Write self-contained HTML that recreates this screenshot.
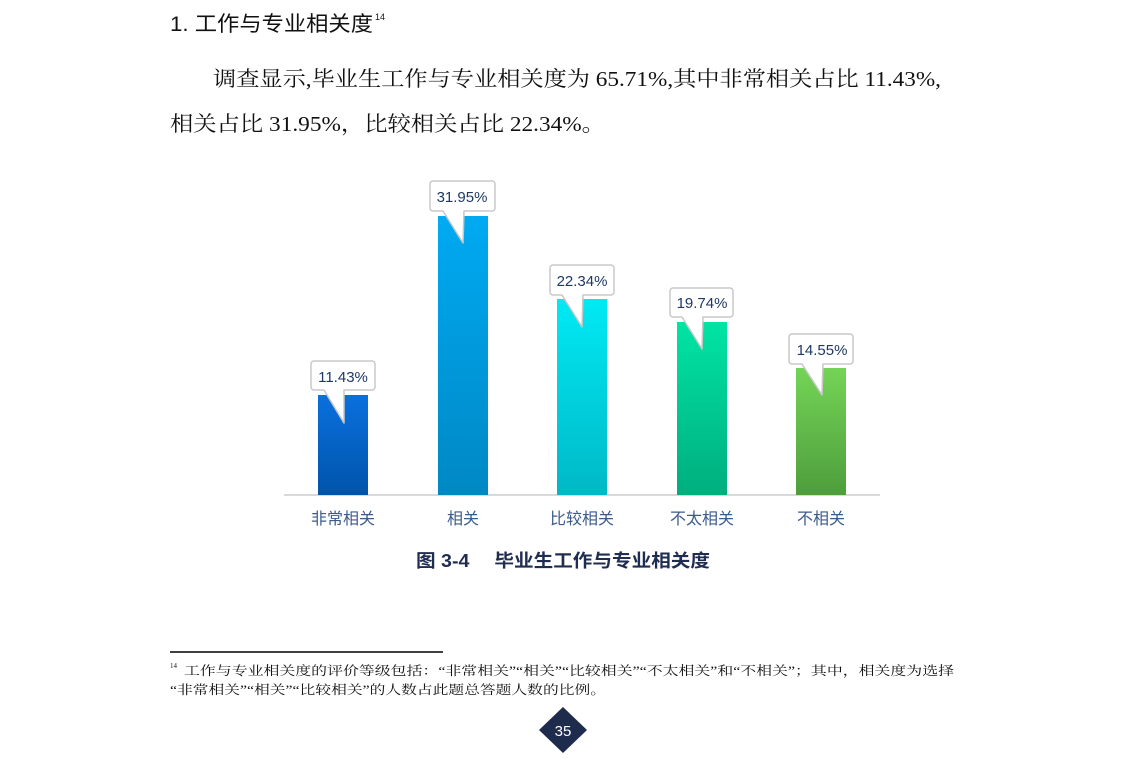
<!DOCTYPE html>
<html><head><meta charset="utf-8"><style>
body{margin:0;background:#fff;}
svg{display:block;}
.s{font-family:"Liberation Serif","Noto Serif CJK SC",serif;}
.a{font-family:"Liberation Sans","Noto Sans CJK SC",sans-serif;}
</style></head><body>
<svg width="1126" height="777" viewBox="0 0 1126 777">
<defs>
<linearGradient id="g1" x1="0" y1="0" x2="0" y2="1"><stop offset="0" stop-color="#0a70de"/><stop offset="1" stop-color="#0054aa"/></linearGradient>
<linearGradient id="g2" x1="0" y1="0" x2="0" y2="1"><stop offset="0" stop-color="#00aaf2"/><stop offset="1" stop-color="#0088c4"/></linearGradient>
<linearGradient id="g3" x1="0" y1="0" x2="0" y2="1"><stop offset="0" stop-color="#00eaf4"/><stop offset="1" stop-color="#00b8c6"/></linearGradient>
<linearGradient id="g4" x1="0" y1="0" x2="0" y2="1"><stop offset="0" stop-color="#00e4a4"/><stop offset="1" stop-color="#00ae7e"/></linearGradient>
<linearGradient id="g5" x1="0" y1="0" x2="0" y2="1"><stop offset="0" stop-color="#74d456"/><stop offset="1" stop-color="#4e9e3c"/></linearGradient>
</defs>
<text x="170" y="31" class="a" font-size="21" fill="#111" textLength="203" lengthAdjust="spacingAndGlyphs">1. 工作与专业相关度</text>
<text x="375" y="20" class="a" font-size="9" fill="#111">14</text>
<text x="213" y="86" class="s" font-size="21" fill="#111" textLength="728" lengthAdjust="spacingAndGlyphs">调查显示,毕业生工作与专业相关度为 65.71%,其中非常相关占比 11.43%,</text>
<text x="170" y="131" class="s" font-size="21" fill="#111" textLength="435" lengthAdjust="spacingAndGlyphs">相关占比 31.95%，比较相关占比 22.34%。</text>

<line x1="284" y1="495" x2="880" y2="495" stroke="#d9d9d9" stroke-width="2"/>
<rect x="318" y="395" width="50" height="100" fill="url(#g1)"/>
<rect x="438" y="216" width="50" height="279" fill="url(#g2)"/>
<rect x="557" y="299" width="50" height="196" fill="url(#g3)"/>
<rect x="677" y="322" width="50" height="173" fill="url(#g4)"/>
<rect x="796" y="368" width="50" height="127" fill="url(#g5)"/>

<g class="a" font-size="15" fill="#1f3864" text-anchor="middle" stroke-linejoin="round">
<path d="M314,361 h58 a3,3 0 0 1 3,3 v23 a3,3 0 0 1 -3,3 h-28 l0,33 l-20,-33 h-10 a3,3 0 0 1 -3,-3 v-23 a3,3 0 0 1 3,-3z" fill="#fff" stroke="#c8c8c8" stroke-width="1.5"/>
<text x="343" y="382">11.43%</text>
<path d="M433,181 h59 a3,3 0 0 1 3,3 v24 a3,3 0 0 1 -3,3 h-28 l-1,32 l-20,-32 h-10 a3,3 0 0 1 -3,-3 v-24 a3,3 0 0 1 3,-3z" fill="#fff" stroke="#c8c8c8" stroke-width="1.5"/>
<text x="462" y="202">31.95%</text>
<path d="M553,265 h58 a3,3 0 0 1 3,3 v24 a3,3 0 0 1 -3,3 h-28 l-1,32 l-20,-32 h-9 a3,3 0 0 1 -3,-3 v-24 a3,3 0 0 1 3,-3z" fill="#fff" stroke="#c8c8c8" stroke-width="1.5"/>
<text x="582" y="286">22.34%</text>
<path d="M673,288 h57 a3,3 0 0 1 3,3 v23 a3,3 0 0 1 -3,3 h-27 l-1,32 l-20,-32 h-9 a3,3 0 0 1 -3,-3 v-23 a3,3 0 0 1 3,-3z" fill="#fff" stroke="#c8c8c8" stroke-width="1.5"/>
<text x="702" y="308">19.74%</text>
<path d="M792,334 h58 a3,3 0 0 1 3,3 v24 a3,3 0 0 1 -3,3 h-27 l-1,31 l-20,-31 h-10 a3,3 0 0 1 -3,-3 v-24 a3,3 0 0 1 3,-3z" fill="#fff" stroke="#c8c8c8" stroke-width="1.5"/>
<text x="822" y="355">14.55%</text>
</g>

<g class="a" font-size="16" fill="#3b5b8c" text-anchor="middle">
<text x="343" y="524">非常相关</text>
<text x="463" y="524">相关</text>
<text x="582" y="524">比较相关</text>
<text x="702" y="524">不太相关</text>
<text x="821" y="524">不相关</text>
</g>
<text x="416" y="567" class="a" font-size="18" font-weight="bold" fill="#1f2d50" textLength="294" lengthAdjust="spacingAndGlyphs">图 3-4　 毕业生工作与专业相关度</text>

<line x1="170" y1="652" x2="443" y2="652" stroke="#000" stroke-width="1.5"/>
<text x="170" y="668" class="s" font-size="7" fill="#111">14</text>
<text x="184" y="675" class="s" font-size="12.5" fill="#111" textLength="770" lengthAdjust="spacingAndGlyphs">工作与专业相关度的评价等级包括：“非常相关”“相关”“比较相关”“不太相关”和“不相关”；其中，相关度为选择</text>
<text x="170" y="694" class="s" font-size="12.5" fill="#111" textLength="436" lengthAdjust="spacingAndGlyphs">“非常相关”“相关”“比较相关”的人数占此题总答题人数的比例。</text>
<polygon points="563,707 587,730 563,753 539,730" fill="#1f2b4d"/>
<text x="563" y="736" class="a" font-size="15" fill="#fff" text-anchor="middle">35</text>
</svg>
</body></html>
